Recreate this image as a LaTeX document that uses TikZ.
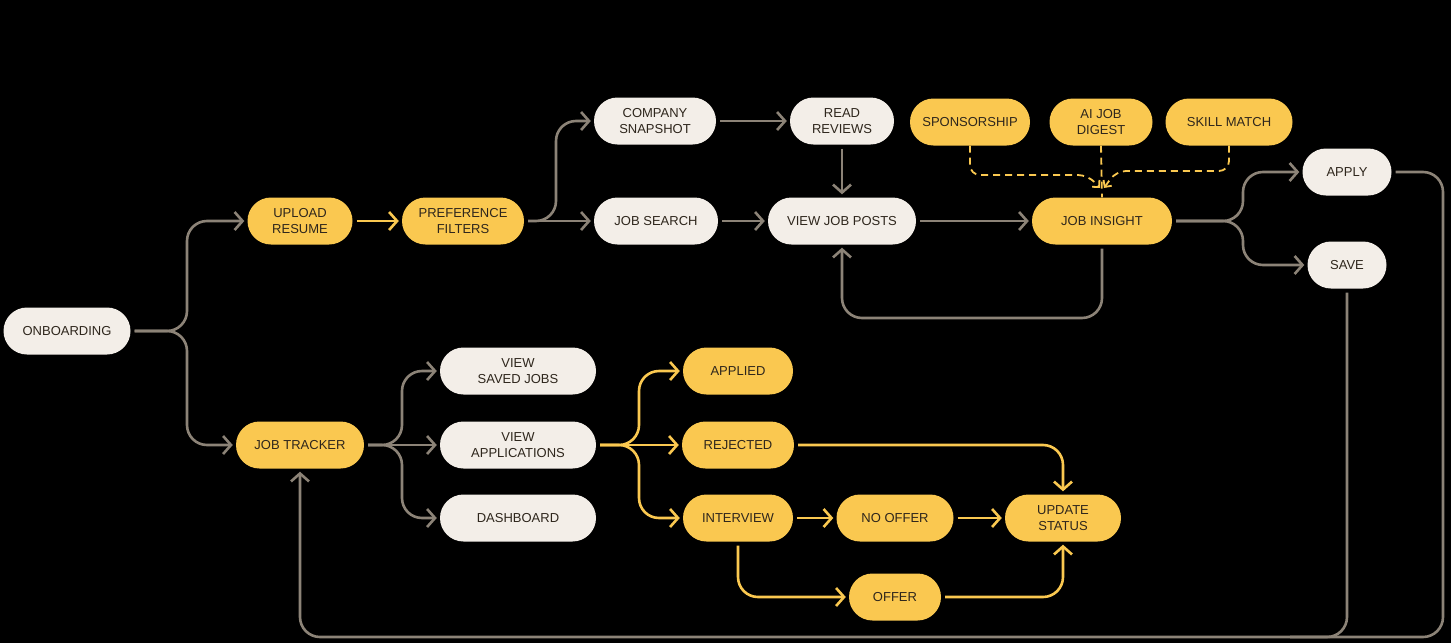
\documentclass[tikz,border=0pt]{standalone}
\usepackage{fontspec}
\setmainfont{Liberation Sans}
\usetikzlibrary{arrows.meta}
\definecolor{ylw}{HTML}{FAC850}
\definecolor{crm}{HTML}{F3EEE8}
\definecolor{lgray}{HTML}{8C8377}
\definecolor{txt}{HTML}{2E261C}
\begin{document}
\begin{tikzpicture}[x=1pt,y=-1pt,
 box/.style={rectangle, rounded corners=23.5pt, minimum height=47pt, inner sep=0pt, align=center, font=\fontsize{13}{16}\selectfont, text=txt},
 yb/.style={box, fill=ylw},
 cb/.style={box, fill=crm},
 gl/.style={draw=lgray, line width=2.6pt, rounded corners=20pt, shorten <=4pt},
 yl/.style={draw=ylw, line width=2.6pt, rounded corners=20pt, shorten <=4pt},
 ydash/.style={draw=ylw, line width=1.8pt, dash pattern=on 7pt off 5pt, rounded corners=10pt},
 arr/.style={-{Straight Barb[length=8pt,width=18pt]}, shorten >=3pt},
 sarr/.style={-{Straight Barb[length=5pt,width=10pt]}}
]
\fill[black] (0,0) rectangle (1451,643);
\useasboundingbox (0,0) rectangle (1451,643);

% nodes
\node[cb, minimum width=127pt] (onb) at (67,331) {ONBOARDING};
\node[yb, minimum width=105pt] (upl) at (300,221) {UPLOAD\\RESUME};
\node[yb, minimum width=122pt] (pref) at (463,221) {PREFERENCE\\FILTERS};
\node[cb, minimum width=122pt] (comp) at (655,121) {COMPANY\\SNAPSHOT};
\node[cb, minimum width=124pt] (js) at (656,221) {JOB SEARCH};
\node[cb, minimum width=104pt] (rr) at (842,121) {READ\\REVIEWS};
\node[cb, minimum width=148pt] (vjp) at (842,221) {VIEW JOB POSTS};
\node[yb, minimum width=120pt] (sp) at (970,122) {SPONSORSHIP};
\node[yb, minimum width=103pt] (dg) at (1101,122) {AI JOB\\DIGEST};
\node[yb, minimum width=127pt] (sk) at (1229,122) {SKILL MATCH};
\node[yb, minimum width=140pt] (ji) at (1102,221) {JOB INSIGHT};
\node[cb, minimum width=89pt] (apply) at (1347,172) {APPLY};
\node[cb, minimum width=79pt] (save) at (1347,265) {SAVE};
\node[yb, minimum width=128pt] (jt) at (300,445) {JOB TRACKER};
\node[cb, minimum width=156pt] (vsj) at (518,371) {VIEW\\SAVED JOBS};
\node[cb, minimum width=156pt] (vapp) at (518,445) {VIEW\\APPLICATIONS};
\node[cb, minimum width=156pt] (dsh) at (518,518) {DASHBOARD};
\node[yb, minimum width=110pt] (applied) at (738,371) {APPLIED};
\node[yb, minimum width=112pt] (rej) at (738,445) {REJECTED};
\node[yb, minimum width=110pt] (int) at (738,518) {INTERVIEW};
\node[yb, minimum width=117pt] (noff) at (895,518) {NO OFFER};
\node[yb, minimum width=116pt] (us) at (1063,518) {UPDATE\\STATUS};
\node[yb, minimum width=92pt] (off) at (895,597) {OFFER};

% gray connectors
\draw[gl,arr] (onb.east) -- (187,331) |- (upl.west);
\draw[gl,arr] (onb.east) -- (187,331) |- (jt.west);
\draw[gl,arr] (pref.east) -- (556,221) |- (comp.west);
\draw[gl,arr] (pref.east) -- (js.west);
\draw[gl,arr] (comp.east) -- (rr.west);
\draw[gl,arr] (js.east) -- (vjp.west);
\draw[gl,arr] (rr.south) -- (vjp.north);
\draw[gl,arr] (vjp.east) -- (ji.west);
\draw[gl,arr] (ji.south) |- (842,318) -- (vjp.south);
\draw[gl,arr] (ji.east) -- (1243,221) |- (apply.west);
\draw[gl,arr] (ji.east) -- (1243,221) |- (save.west);
\draw[gl,arr] (apply.east) -| (1443,637) -| (jt.south);
\draw[gl] (save.south) |- (1290,637);
\draw[gl,arr] (jt.east) -- (402,445) |- (vsj.west);
\draw[gl,arr] (jt.east) -- (vapp.west);
\draw[gl,arr] (jt.east) -- (402,445) |- (dsh.west);

% yellow connectors
\draw[yl,arr] (upl.east) -- (pref.west);
\draw[yl,arr] (vapp.east) -- (639,445) |- (applied.west);
\draw[yl,arr] (vapp.east) -- (rej.west);
\draw[yl,arr] (vapp.east) -- (639,445) |- (int.west);
\draw[yl,arr] (rej.east) -| (us.north);
\draw[yl,arr] (int.east) -- (noff.west);
\draw[yl,arr] (noff.east) -- (us.west);
\draw[yl,arr] (int.south) |- (off.west);
\draw[yl,arr] (off.east) -| (us.south);

% dashed
\draw[ydash,sarr] (sp.south) |- (1088,175) -- (1100,188);
\draw[ydash,sarr] (sk.south) |- (1116,171) -- (1104,188);
\draw[ydash] (dg.south) -- (ji.north);
\end{tikzpicture}
\end{document}
